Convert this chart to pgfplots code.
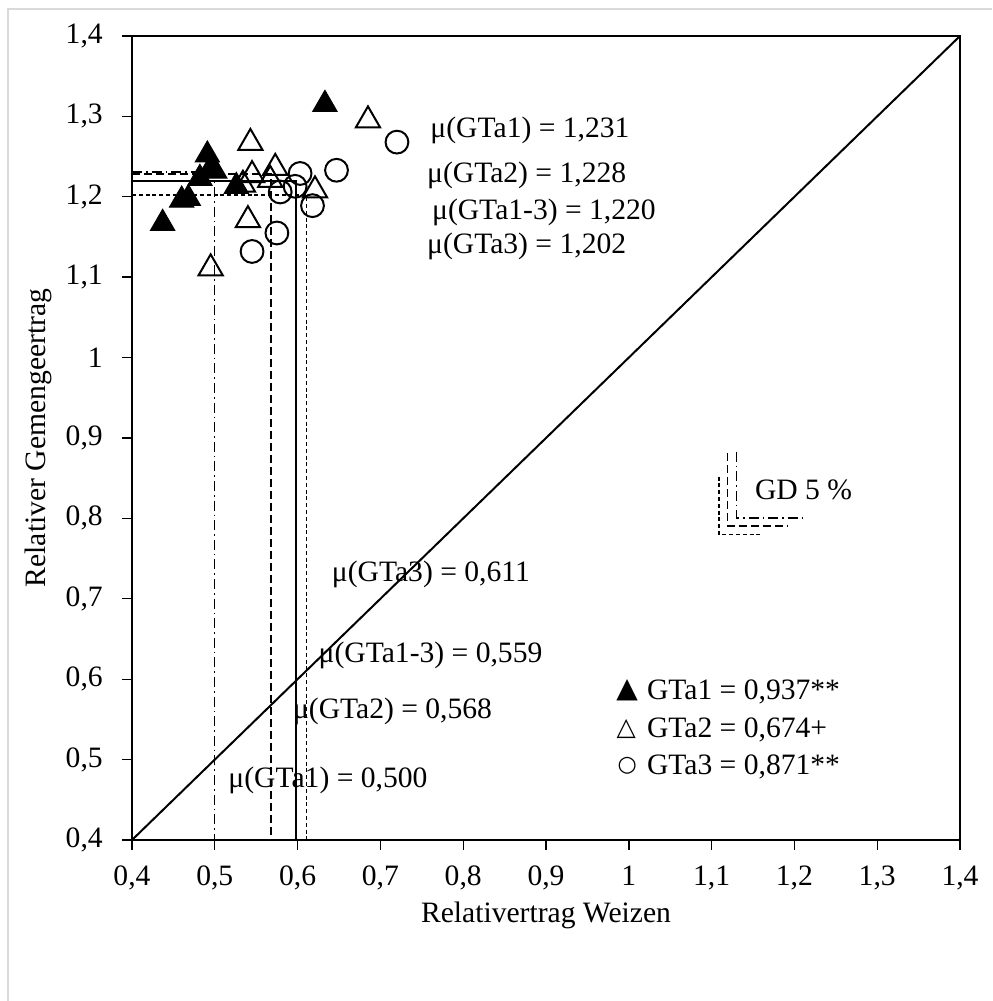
\documentclass[border=0pt]{standalone}
\usepackage{pgfplots}
\pgfplotsset{compat=1.18}
\usepackage{fontspec}
\setmainfont{Liberation Serif}
\newfontfamily\symfont{DejaVu Sans}
\begin{document}
\fontsize{14.8pt}{17pt}\selectfont
\begin{tikzpicture}
\path[use as bounding box] (-66pt,-80.5pt) rectangle (430pt,420pt);
\draw[black!15, line width=1pt] (-62pt,-80.5pt) -- (-62pt,415.5pt) -- (430pt,415.5pt);
\begin{axis}[
  scale only axis, width=414pt, height=402pt,
  xmin=0.4, xmax=1.4, ymin=0.4, ymax=1.4,
  xtick={0.4,0.5,0.6,0.7,0.8,0.9,1,1.1,1.2,1.3,1.4},
  ytick={0.4,0.5,0.6,0.7,0.8,0.9,1,1.1,1.2,1.3,1.4},
  /pgf/number format/use comma,
  /pgf/number format/assume math mode=true,
  tick pos=left, tick align=outside, major tick length=5pt,
  every tick/.style={black, line width=0.7pt},
  axis line style={line width=1pt},
  yticklabel style={xshift=-4.5pt},
  xticklabel style={yshift=-3pt},
  xlabel={Relativertrag Weizen},
  ylabel={Relativer Gemengeertrag},
  xlabel style={at={(axis description cs:0.5,-0.0933)}, anchor=center},
  ylabel style={at={(axis description cs:-0.1135,0.5)}, anchor=center, rotate=0},
  clip=false,
]
% diagonal
\addplot[black, line width=1pt] coordinates {(0.4,0.4) (1.4,1.4)};
% mean lines
\addplot[black, line width=0.7pt, dash pattern=on 5pt off 2pt on 0.8pt off 2pt] coordinates {(0.4,1.231) (0.500,1.231) (0.500,0.4)};
\addplot[black, line width=0.8pt, dash pattern=on 4pt off 2pt] coordinates {(0.4,1.228) (0.568,1.228) (0.568,0.4)};
\addplot[black, line width=0.8pt] coordinates {(0.4,1.220) (0.598,1.220) (0.598,0.4)};
\addplot[black, line width=0.7pt, dash pattern=on 2pt off 1.4pt] coordinates {(0.4,1.202) (0.611,1.202) (0.611,0.4)};
% GD 5 %
\addplot[black, line width=0.8pt, dash pattern=on 5pt off 2pt on 0.8pt off 2pt] coordinates {(1.130,0.883) (1.130,0.8005) (1.215,0.8005)};
\addplot[black, line width=0.8pt, dash pattern=on 4pt off 2pt] coordinates {(1.119,0.881) (1.119,0.7906) (1.191,0.7906)};
\addplot[black, line width=0.8pt, dash pattern=on 2pt off 1.4pt] coordinates {(1.109,0.852) (1.109,0.780) (1.160,0.780)};
% GTa3
\addplot[only marks, mark=o, mark size=5.7pt, mark options={black, line width=1pt}] coordinates {
(0.720,1.268) (0.647,1.233) (0.603,1.229) (0.597,1.213) (0.579,1.206)
(0.618,1.189) (0.575,1.155) (0.545,1.132)};
% GTa2
\addplot[only marks, mark=triangle, mark size=7pt, mark options={black, line width=1pt}] coordinates {
(0.685,1.295) (0.543,1.267) (0.573,1.236) (0.545,1.227) (0.567,1.221)
(0.534,1.215) (0.621,1.208) (0.540,1.171) (0.495,1.111)};
% GTa1
\addplot[only marks, mark=triangle*, mark size=7pt, mark options={black, fill=black, line width=0.5pt}] coordinates {
(0.633,1.315) (0.491,1.252) (0.496,1.237) (0.482,1.223) (0.500,1.232)
(0.526,1.213) (0.468,1.198) (0.460,1.196) (0.437,1.167)};
% labels
\node[anchor=west, inner sep=0pt] at (axis cs:0.760,1.282) {μ(GTa1) = 1,231};
\node[anchor=west, inner sep=0pt] at (axis cs:0.756,1.227) {μ(GTa2) = 1,228};
\node[anchor=west, inner sep=0pt] at (axis cs:0.762,1.181) {μ(GTa1-3) = 1,220};
\node[anchor=west, inner sep=0pt] at (axis cs:0.756,1.138) {μ(GTa3) = 1,202};
\node[anchor=west, inner sep=0pt] at (axis cs:0.641,0.730) {μ(GTa3) = 0,611};
\node[anchor=west, inner sep=0pt] at (axis cs:0.625,0.629) {μ(GTa1-3) = 0,559};
\node[anchor=west, inner sep=0pt] at (axis cs:0.594,0.560) {μ(GTa2) = 0,568};
\node[anchor=west, inner sep=0pt] at (axis cs:0.516,0.474) {μ(GTa1) = 0,500};
\node[anchor=west, inner sep=0pt] at (axis cs:1.152,0.835) {GD 5 \%};
% legend
\node[inner sep=0pt] at (axis cs:0.998,0.586) {\fontsize{14pt}{14pt}\symfont ▲};
\node[inner sep=0pt] at (axis cs:0.997,0.538) {\fontsize{12.5pt}{14pt}\symfont △};
\node[inner sep=0pt] at (axis cs:0.998,0.492) {\fontsize{11pt}{14pt}\symfont ○};
\node[anchor=west, inner sep=0pt] at (axis cs:1.0215,0.584) {GTa1 = 0,937**};
\node[anchor=west, inner sep=0pt] at (axis cs:1.0215,0.537) {GTa2 = 0,674+};
\node[anchor=west, inner sep=0pt] at (axis cs:1.0215,0.491) {GTa3 = 0,871**};
\end{axis}
\end{tikzpicture}
\end{document}
